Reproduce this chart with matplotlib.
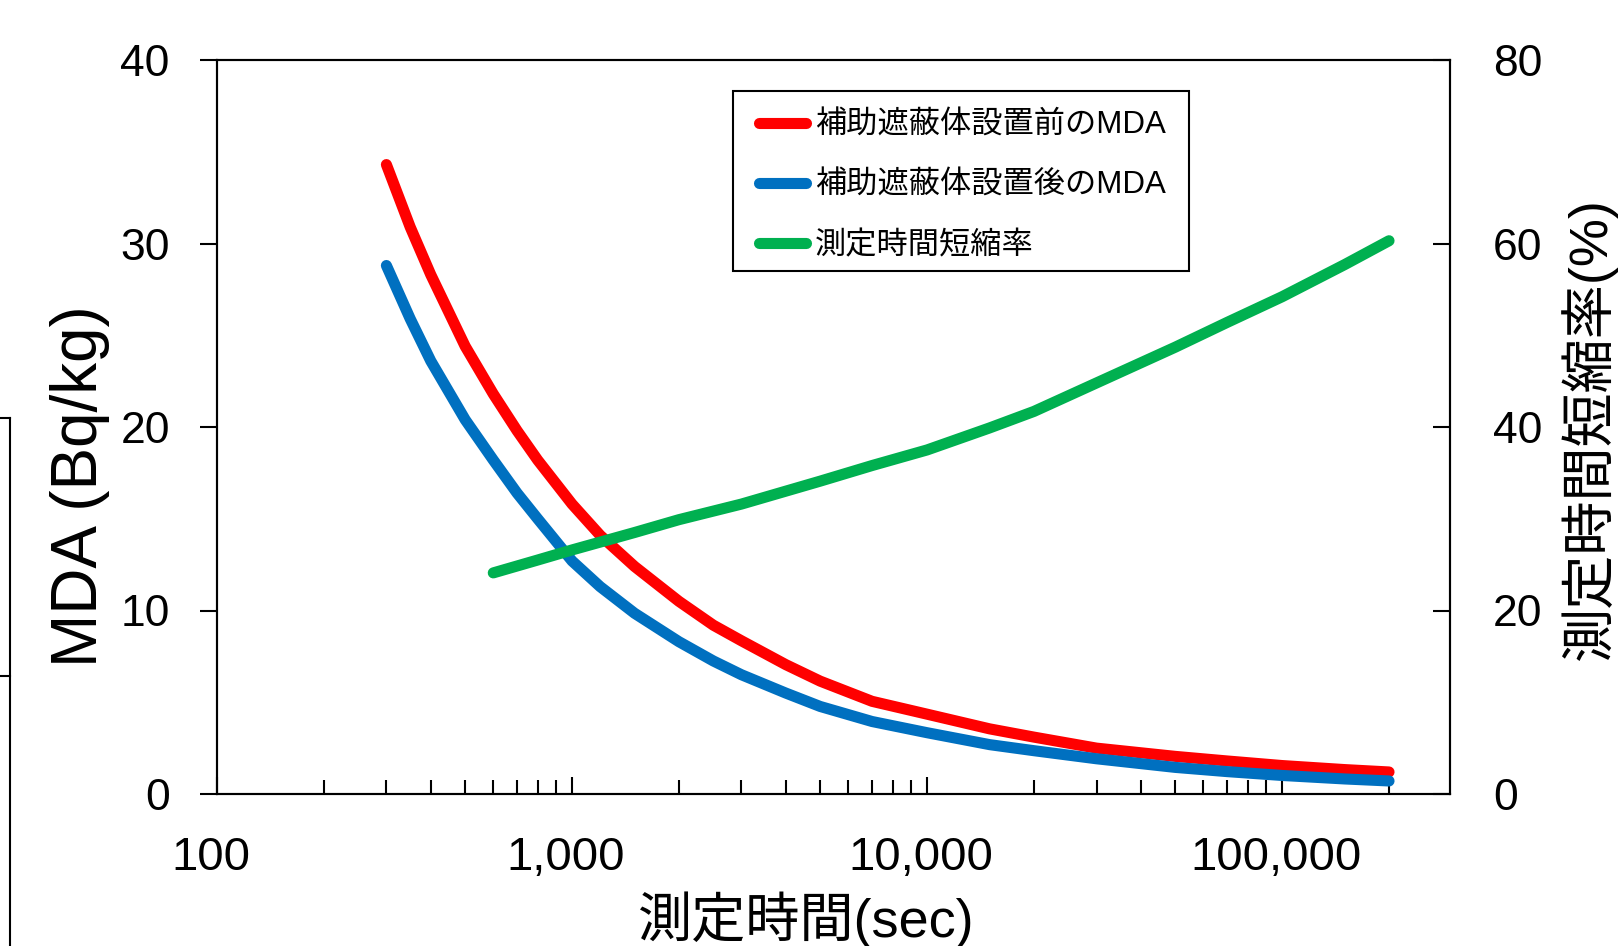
import matplotlib
matplotlib.use("Agg")
import matplotlib.pyplot as plt
import matplotlib.transforms as mtransforms
from matplotlib.lines import Line2D
from matplotlib.patches import Rectangle
from matplotlib.legend_handler import HandlerLine2D
from matplotlib.ticker import FixedLocator, LogLocator, FuncFormatter, NullFormatter

# 測定時間 (sec) と MDA (Bq/kg)
t_mda = [300, 350, 400, 500, 600, 700, 800, 1000, 1200, 1500, 2000, 2500, 3000,
         4000, 5000, 7000, 10000, 15000, 20000, 30000, 50000, 70000, 100000,
         150000, 200000]
mda_before = [34.3, 30.9, 28.3, 24.4, 21.8, 19.8, 18.2, 15.8, 14.1, 12.4, 10.5, 9.2,
              8.35, 7.05, 6.15, 5.05, 4.35, 3.55, 3.1, 2.5, 2.05, 1.8, 1.55,
              1.33, 1.2]
mda_after = [28.8, 25.9, 23.6, 20.4, 18.2, 16.4, 15.0, 12.7, 11.3, 9.85, 8.3, 7.25,
             6.5, 5.5, 4.77, 3.95, 3.34, 2.69, 2.36, 1.92, 1.45, 1.22, 1.01,
             0.82, 0.71]

# 測定時間短縮率 (%)
t_rate = [600, 800, 1000, 1500, 2000, 3000, 5000, 7000, 10000, 15000, 20000, 30000,
          50000, 70000, 100000, 150000, 200000]
rate = [24.1, 25.5, 26.6, 28.5, 29.9, 31.6, 34.1, 35.8, 37.5, 39.9, 41.7, 44.8,
        48.7, 51.4, 54.2, 57.7, 60.3]

labels = ["補助遮蔽体設置前のMDA", "補助遮蔽体設置後のMDA", "測定時間短縮率"]
x_ticks = [100, 1000, 10000, 100000]

W, H = 1618, 946
fam = ["Liberation Sans", "Noto Sans CJK JP"]
plt.rcParams["font.family"] = fam

fig = plt.figure(figsize=(W / 100, H / 100), dpi=100)
ax = fig.add_axes([217 / W, 1 - 794 / H, (1450 - 217) / W, (794 - 60) / H])
ax2 = ax.twinx()

l1, = ax.plot(t_mda, mda_before, color="#FF0000", lw=8, solid_capstyle="round")
l2, = ax.plot(t_mda, mda_after, color="#0070C0", lw=8, solid_capstyle="round")
l3, = ax2.plot(t_rate, rate, color="#00B050", lw=8, solid_capstyle="round")

ax.set_xscale("log")
ax.set_xlim(100, 297000)
ax.set_ylim(0, 40)
ax2.set_ylim(0, 80)
ax.xaxis.set_major_locator(FixedLocator(x_ticks))
ax.xaxis.set_major_formatter(FuncFormatter(lambda v, p: f"{v:,.0f}"))
ax.xaxis.set_minor_locator(LogLocator(base=10, subs=range(2, 10)))
ax.xaxis.set_minor_formatter(NullFormatter())
ax.set_yticks([0, 10, 20, 30, 40])
ax2.set_yticks([0, 20, 40, 60, 80])

for a in (ax, ax2):
    for s in a.spines.values():
        s.set_linewidth(1.5)
        s.set_color("black")

ax.tick_params(axis="x", which="major", direction="in", length=12, width=1.5,
               pad=30, labelsize=34)
ax.tick_params(axis="x", which="minor", direction="in", length=10, width=1.5)
ax.tick_params(axis="y", direction="out", length=12, width=1.5, pad=22, labelsize=32)
ax2.tick_params(axis="y", direction="in", length=12, width=1.5, pad=31, labelsize=32)

# x目盛りラベルを少し左へ
shift = mtransforms.ScaledTranslation(-6 / 100, 0, fig.dpi_scale_trans)
for lab in ax.get_xticklabels():
    lab.set_transform(lab.get_transform() + shift)

fig.text(80 / W, 1 - 486 / H, "MDA (Bq/kg)", rotation=90, ha="center", va="center",
         fontsize=46)
fig.text(1589 / W, 1 - 429 / H, "測定時間短縮率(%)", rotation=90, ha="center",
         va="center", fontsize=39)
fig.text(806 / W, 1 - 920 / H, "測定時間(sec)", ha="center", va="center", fontsize=39)

# 凡例(枠は別に描く)
handler = HandlerLine2D(xpad=0.37)
leg = ax2.legend([l1, l2, l3], labels, loc="upper left",
                 bbox_to_anchor=(733 / W, 1 - 97 / H), bbox_transform=fig.transFigure,
                 borderaxespad=0, fontsize=22.5, frameon=False, handlelength=1.9,
                 handletextpad=0.27, labelspacing=0.96, borderpad=0.45,
                 handler_map={l1: handler, l2: handler, l3: handler})
fig.add_artist(Rectangle((733 / W, 1 - 271 / H), (1189 - 733) / W, (271 - 91) / H,
                         transform=fig.transFigure, fill=False, edgecolor="black",
                         lw=1.5))

# 左端の枠線
fig.add_artist(Line2D([10 / W, 10 / W], [0, 1 - 418 / H], color="black", lw=1.5))
fig.add_artist(Line2D([0, 10 / W], [1 - 418 / H, 1 - 418 / H], color="black", lw=1.5))
fig.add_artist(Line2D([0, 10 / W], [1 - 676 / H, 1 - 676 / H], color="black", lw=1.5))

fig.savefig("out.png", dpi=100)
